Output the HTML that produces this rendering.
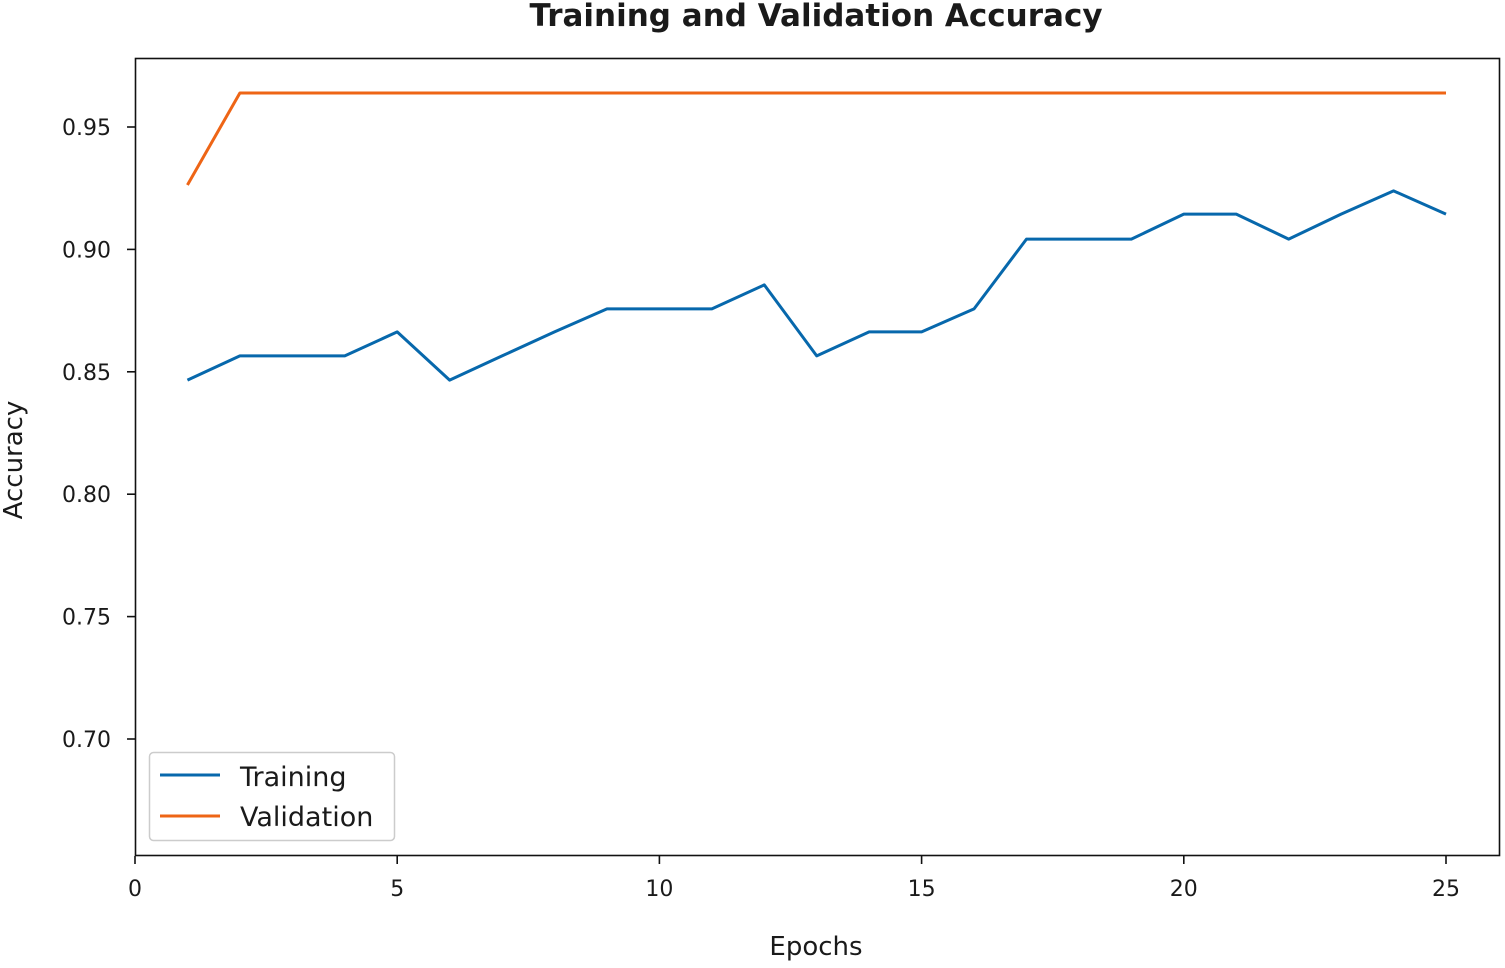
<!DOCTYPE html>
<html><head><meta charset="utf-8"><style>
html,body{margin:0;padding:0;background:#fff;}
svg text{font-family:"DejaVu Sans","Liberation Sans",sans-serif;fill:#1a1a1a;}
</style></head><body>
<svg id="chart" width="1505" height="963" xmlns="http://www.w3.org/2000/svg">
<text x="816" y="26" text-anchor="middle" font-size="31" font-weight="bold">Training and Validation Accuracy</text>
<rect x="135.5" y="58.5" width="1364" height="797" fill="none" stroke="#111" stroke-width="1.6"/>
<g id="xticks"></g>
<g id="yticks"></g>
<text x="816" y="955" text-anchor="middle" font-size="26">Epochs</text>
<text transform="translate(22,460) rotate(-90)" text-anchor="middle" font-size="26">Accuracy</text>
<g id="series"></g>
<g>
<rect x="149.5" y="752.5" width="245" height="88" rx="4" fill="#fff" stroke="#ccc" stroke-width="1.5"/>
<line x1="160" y1="775" x2="220" y2="775" stroke="#0768ac" stroke-width="3"/>
<text x="240" y="786" font-size="27">Training</text>
<line x1="160" y1="816" x2="220" y2="816" stroke="#ee6516" stroke-width="3"/>
<text x="240" y="826" font-size="27">Validation</text>
</g>
</svg>
<script>
const epochs=[1,2,3,4,5,6,7,8,9,10,11,12,13,14,15,16,17,18,19,20,21,22,23,24,25];
const trainingAcc=[0.8466,0.8565,0.8565,0.8565,0.8663,0.8466,0.8565,0.8663,0.8757,0.8757,0.8757,0.8855,0.8565,0.8663,0.8663,0.8757,0.9042,0.9042,0.9042,0.9144,0.9144,0.9042,0.9144,0.9239,0.9144];
const validationAcc=[0.9263,0.9639,0.9639,0.9639,0.9639,0.9639,0.9639,0.9639,0.9639,0.9639,0.9639,0.9639,0.9639,0.9639,0.9639,0.9639,0.9639,0.9639,0.9639,0.9639,0.9639,0.9639,0.9639,0.9639,0.9639];
const xTickLabels=["0","5","10","15","20","25"];
const yTickLabels=["0.70","0.75","0.80","0.85","0.90","0.95"];
const NS="http://www.w3.org/2000/svg";
function xs(v){return 135+v*(1446-135)/25;}
function ys(v){return 739-(v-0.70)*(739-127)/0.25;}
function mk(tag,attrs,parent){const e=document.createElementNS(NS,tag);for(const k in attrs)e.setAttribute(k,attrs[k]);parent.appendChild(e);return e;}
const gx=document.getElementById('xticks'),gy=document.getElementById('yticks'),gs=document.getElementById('series');
xTickLabels.forEach(l=>{const x=xs(parseFloat(l));
const t=mk('line',{x1:x,y1:856,x2:x,y2:864,stroke:'#111','stroke-width':1.6},gx);


const tx=mk('text',{x:x,y:896,'text-anchor':'middle','font-size':22},gx);tx.textContent=l;

});
yTickLabels.forEach(l=>{const y=ys(parseFloat(l));
const t=mk('line',{x1:127,y1:y,x2:135,y2:y,stroke:'#111','stroke-width':1.6},gy);


const tx=mk('text',{x:111,y:y+8,'text-anchor':'end','font-size':22},gy);tx.textContent=l;

});
function line(vals,color,name){const p=mk('polyline',{points:epochs.map((e,i)=>xs(e)+','+ys(vals[i])).join(' '),fill:'none',stroke:color,'stroke-width':3,'stroke-linejoin':'round'},gs);

}
line(trainingAcc,'#0768ac','training-line');
line(validationAcc,'#ee6516','validation-line');
</script>
</body></html>
